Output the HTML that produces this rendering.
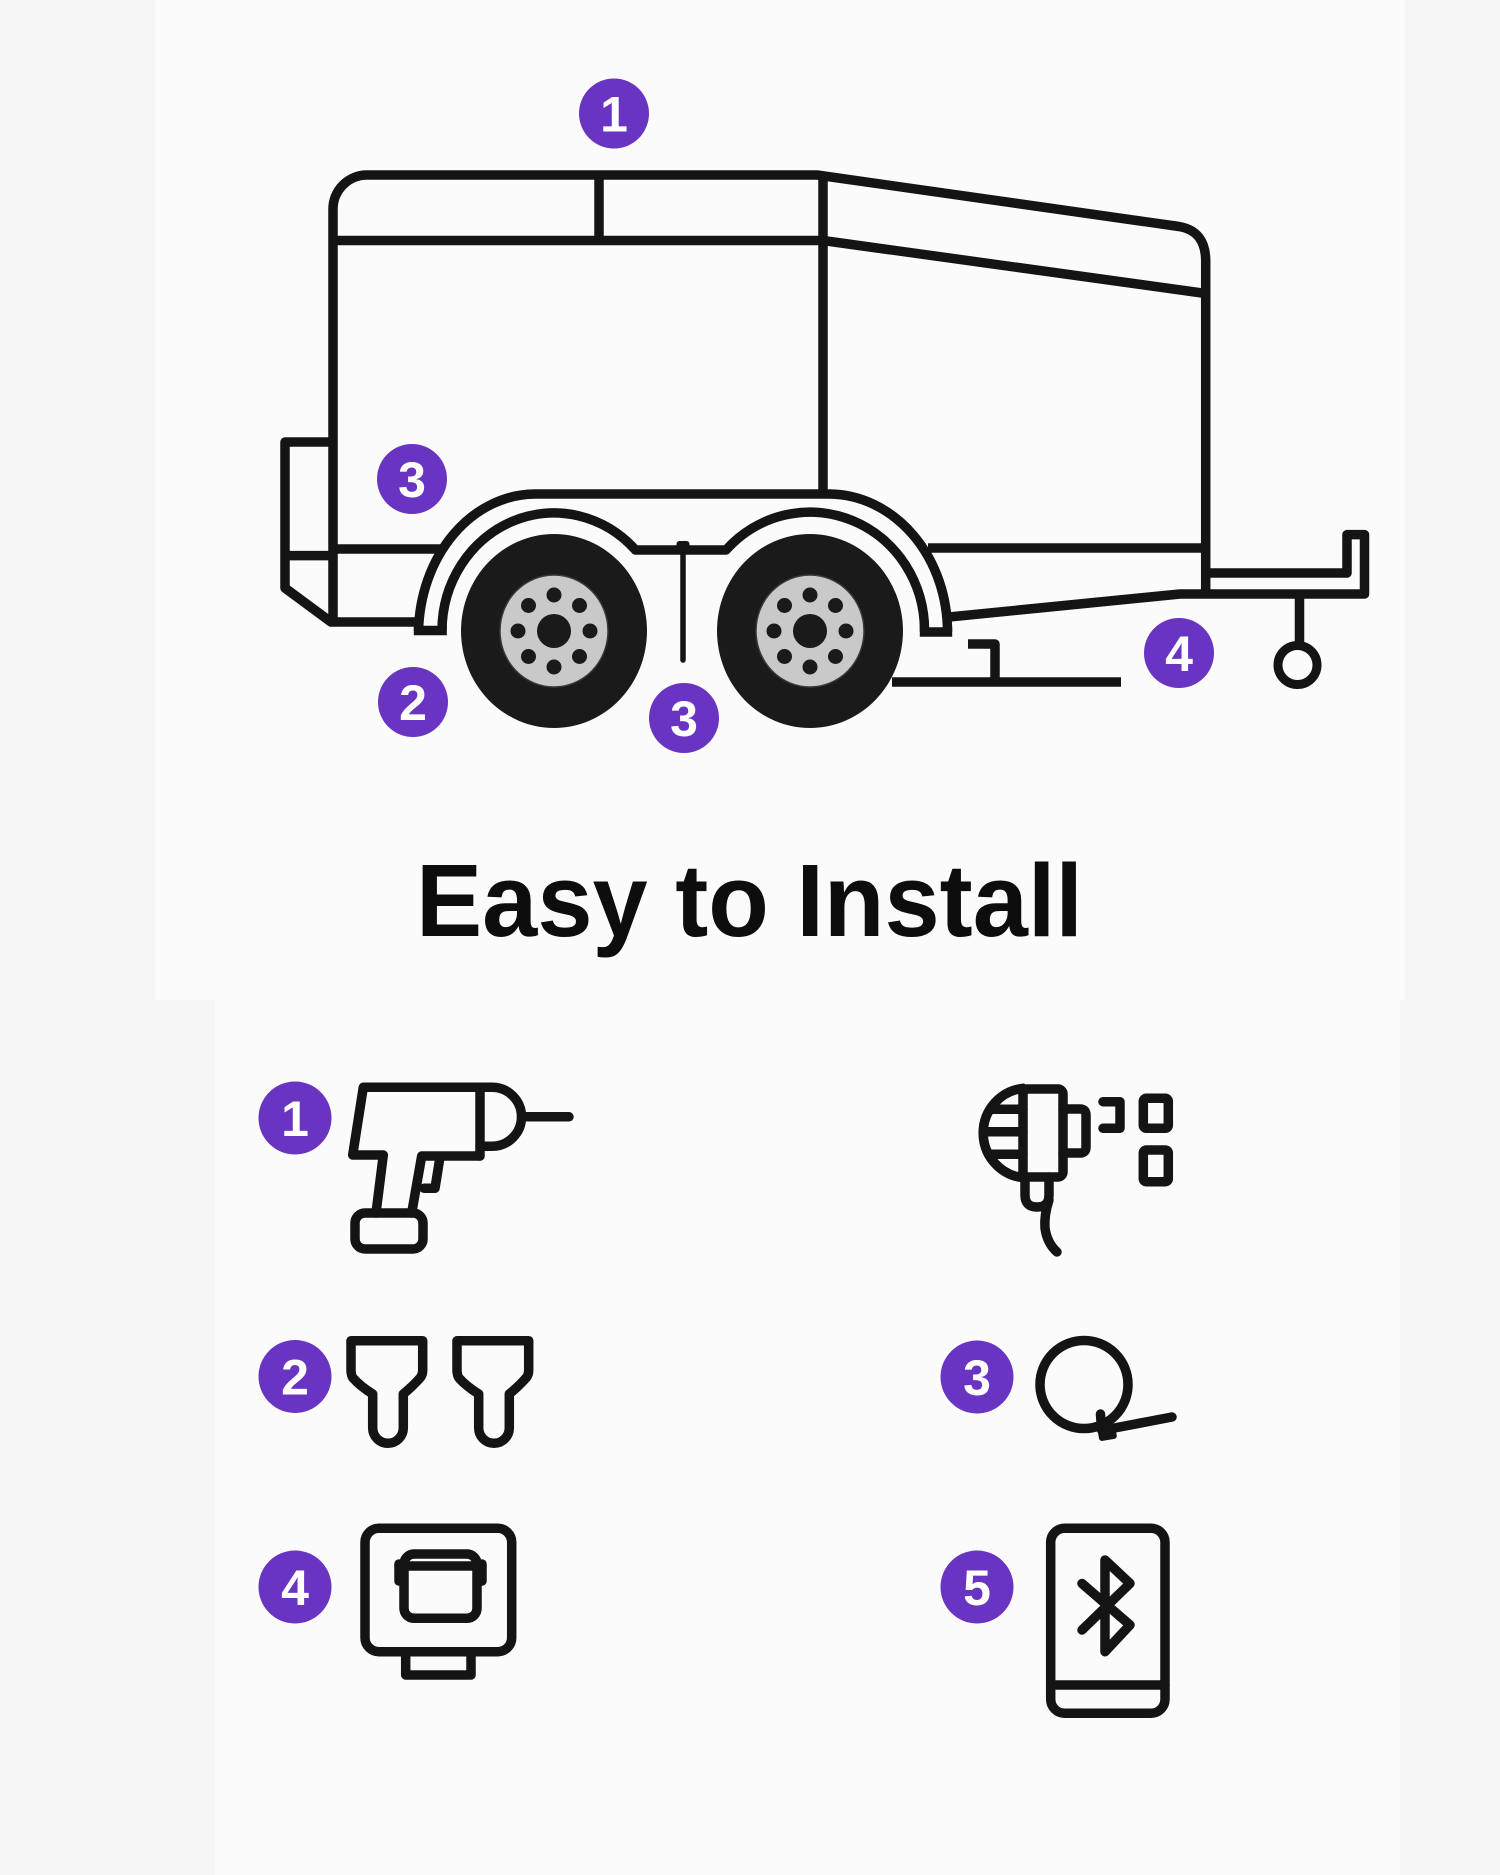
<!DOCTYPE html>
<html>
<head>
<meta charset="utf-8">
<style>
  html,body{margin:0;padding:0;background:#f6f6f6;}
  svg{display:block;}
  .t{fill:none;stroke:#141414;stroke-width:9.5;stroke-linejoin:round;stroke-linecap:butt;}
  .i{fill:none;stroke:#141414;stroke-width:9.5;stroke-linejoin:round;stroke-linecap:round;}
  .bd{fill:#6934c2;}
  .bn{fill:#ffffff;font-family:"Liberation Sans",Arial,sans-serif;font-weight:bold;font-size:50px;text-anchor:middle;}
</style>
</head>
<body>
<svg width="1500" height="1875" viewBox="0 0 1500 1875" xmlns="http://www.w3.org/2000/svg">
  <rect x="0" y="0" width="1500" height="1875" fill="#f6f6f6"/>
  <rect x="155" y="0" width="1250" height="1000" fill="#fbfbfb"/>
  <rect x="215" y="1000" width="1185" height="875" fill="#fbfbfb"/>

  <!-- ===== TRAILER ===== -->
  <path class="t" d="M 892 682 L 1121 682" stroke-linecap="round"/>
  <path class="t" d="M 968 644 L 995 644 L 995 682"/>

  <path class="t" d="M 333 622 L 333 209 A 34 34 0 0 1 367 175 L 817 175 L 1179 226.5 Q 1205.7 231 1205.7 261 L 1205.7 598"/>
  <path class="t" d="M 333 240.5 L 823 240.5 L 1205.7 293.5"/>
  <path class="t" d="M 599 175 L 599 240.5"/>
  <path class="t" d="M 823 175 L 823 494"/>

  <path class="t" d="M 333 442 L 285 442 L 285 588 L 331 622 L 418 622"/>
  <path class="t" d="M 285 555.6 L 333 555.6"/>
  <path class="t" d="M 333 549 L 445 549"/>

  <path class="t" d="M 928 548 L 1205.7 548"/>
  <path class="t" d="M 949 617 L 1180 594 L 1364.5 594 L 1364.5 534.6 L 1347 534.6 L 1347 573 L 1205.7 573"/>
  <path class="t" d="M 1299.5 594 L 1299.5 644"/>
  <circle cx="1297.5" cy="665" r="19.5" fill="none" stroke="#141414" stroke-width="9"/>

  <path class="t" d="M 418.5 631 A 117 141 0 0 1 535 494 L 830 494 A 119 138 0 0 1 947.5 632"/>
  <path class="t" d="M 442 631 A 112 118 0 0 1 635.5 550 L 726 550 A 114.5 118 0 0 1 924.5 632"/>
  <path class="t" d="M 413.8 630.5 L 446.8 630.5"/>
  <path class="t" d="M 919.8 632 L 952.2 632"/>

  <path d="M 683 546 L 683 660" stroke="#141414" stroke-width="5.5" stroke-linecap="round"/>
  <rect x="676.5" y="541" width="13" height="7" rx="3" fill="#141414"/>

  <g transform="translate(554,631)">
    <ellipse cx="0" cy="0" rx="93" ry="97" fill="#1a1a1a"/>
    <ellipse cx="0" cy="0" rx="54" ry="56" fill="#c9c9c9" stroke="#3a3a3a" stroke-width="1.5"/>
    <circle cx="0" cy="0" r="17" fill="#1a1a1a"/>
    <circle cx="0" cy="-36" r="7.5" fill="#1a1a1a"/>
    <circle cx="25.5" cy="-25.5" r="7.5" fill="#1a1a1a"/>
    <circle cx="36" cy="0" r="7.5" fill="#1a1a1a"/>
    <circle cx="25.5" cy="25.5" r="7.5" fill="#1a1a1a"/>
    <circle cx="0" cy="36" r="7.5" fill="#1a1a1a"/>
    <circle cx="-25.5" cy="25.5" r="7.5" fill="#1a1a1a"/>
    <circle cx="-36" cy="0" r="7.5" fill="#1a1a1a"/>
    <circle cx="-25.5" cy="-25.5" r="7.5" fill="#1a1a1a"/>
  </g>
  <g transform="translate(810,631)">
    <ellipse cx="0" cy="0" rx="93" ry="97" fill="#1a1a1a"/>
    <ellipse cx="0" cy="0" rx="54" ry="56" fill="#c9c9c9" stroke="#3a3a3a" stroke-width="1.5"/>
    <circle cx="0" cy="0" r="17" fill="#1a1a1a"/>
    <circle cx="0" cy="-36" r="7.5" fill="#1a1a1a"/>
    <circle cx="25.5" cy="-25.5" r="7.5" fill="#1a1a1a"/>
    <circle cx="36" cy="0" r="7.5" fill="#1a1a1a"/>
    <circle cx="25.5" cy="25.5" r="7.5" fill="#1a1a1a"/>
    <circle cx="0" cy="36" r="7.5" fill="#1a1a1a"/>
    <circle cx="-25.5" cy="25.5" r="7.5" fill="#1a1a1a"/>
    <circle cx="-36" cy="0" r="7.5" fill="#1a1a1a"/>
    <circle cx="-25.5" cy="-25.5" r="7.5" fill="#1a1a1a"/>
  </g>

  <circle class="bd" cx="614" cy="113.5" r="35"/><text class="bn" x="614" y="131.5">1</text>
  <circle class="bd" cx="412" cy="479" r="35"/><text class="bn" x="412" y="497">3</text>
  <circle class="bd" cx="413" cy="702" r="35"/><text class="bn" x="413" y="720">2</text>
  <circle class="bd" cx="684" cy="718" r="35"/><text class="bn" x="684" y="736">3</text>
  <circle class="bd" cx="1179" cy="653" r="35"/><text class="bn" x="1179" y="671">4</text>

  <!-- ===== TITLE ===== -->
  <text x="416" y="936" font-family="'Liberation Sans',Arial,sans-serif" font-weight="bold" font-size="103" fill="#0d0d0d" textLength="667" lengthAdjust="spacingAndGlyphs">Easy to Install</text>

  <!-- ===== ICONS ===== -->
  <circle class="bd" cx="295" cy="1118" r="36.5"/><text class="bn" x="295" y="1136">1</text>
  <circle class="bd" cx="295" cy="1376.5" r="36.5"/><text class="bn" x="295" y="1394.5">2</text>
  <circle class="bd" cx="295" cy="1587" r="36.5"/><text class="bn" x="295" y="1605">4</text>
  <circle class="bd" cx="977" cy="1377" r="36.5"/><text class="bn" x="977" y="1395">3</text>
  <circle class="bd" cx="977" cy="1587" r="36.5"/><text class="bn" x="977" y="1605">5</text>

  <!-- drill -->
  <g class="i">
    <path d="M 480 1156 L 421.7 1156 L 411.7 1213"/>
    <path d="M 376 1213 L 383.3 1155 L 352.7 1155 L 363.3 1087.3 L 492 1087.3 A 29.5 29.5 0 0 1 492 1146.3 L 480 1146.3"/>
    <path d="M 480 1087.3 L 480 1156"/>
    <path d="M 521.5 1116.8 L 569 1116.8"/>
    <path d="M 440 1157 L 435 1188.3 L 424 1188.3"/>
    <rect x="355" y="1213" width="68" height="36" rx="10"/>
  </g>

  <!-- plug / power -->
  <g class="i">
    <path d="M 1023 1088.3 A 45 45 0 0 0 1023 1177.7"/>
    <path d="M 990 1109.3 L 1023 1109.3"/>
    <path d="M 983.5 1131.7 L 1023 1131.7"/>
    <path d="M 988.5 1154.3 L 1023 1154.3"/>
    <rect x="1023" y="1089" width="40" height="88" rx="5"/>
    <path d="M 1063 1109 L 1080 1109 Q 1086 1109 1086 1115 L 1086 1147 Q 1086 1153 1080 1153 L 1063 1153"/>
    <path d="M 1025 1177 L 1025 1195 Q 1025 1207 1037 1207 Q 1049 1207 1049 1195 L 1049 1177"/>
    <path d="M 1049 1200 Q 1044 1215 1045 1228 Q 1047 1243 1057 1252"/>
    <path d="M 1103 1101.7 L 1120 1101.7 L 1120 1128.3 L 1103 1128.3"/>
    <rect x="1143.3" y="1098.3" width="25" height="30" rx="3"/>
    <rect x="1143.3" y="1150" width="25" height="31.7" rx="3"/>
  </g>

  <!-- heat shrink connectors -->
  <g class="i">
    <path d="M 372.7 1428 L 372.7 1394 Q 360 1386 353 1378 Q 351 1375 351 1370 L 351 1340.7 L 422.7 1340.7 L 422.7 1370 Q 422.7 1375 420 1378 Q 413 1386 403.3 1394 L 403.3 1428 A 15.3 15.3 0 0 1 372.7 1428 Z"/>
    <path transform="translate(106,0)" d="M 372.7 1428 L 372.7 1394 Q 360 1386 353 1378 Q 351 1375 351 1370 L 351 1340.7 L 422.7 1340.7 L 422.7 1370 Q 422.7 1375 420 1378 Q 413 1386 403.3 1394 L 403.3 1428 A 15.3 15.3 0 0 1 372.7 1428 Z"/>
  </g>

  <!-- cable tie -->
  <g class="i">
    <circle cx="1084" cy="1384.5" r="44" stroke-width="9.5"/>
    <path d="M 1104 1430 L 1172 1417"/>
    <path d="M 1100.5 1414 L 1101.5 1430"/>
  </g>
  <rect x="1098" y="1424" width="18" height="16" rx="3" fill="#141414" transform="rotate(-10 1107 1432)"/>

  <!-- box / module -->
  <g class="i">
    <rect x="365" y="1528.3" width="146.7" height="123.4" rx="14"/>
    <path d="M 405.7 1651.7 L 405.7 1675 L 471 1675 L 471 1651.7" stroke-linecap="butt"/>
    <rect x="404" y="1554" width="73" height="64.3" rx="10"/>
    <path d="M 399 1566 L 482 1566"/>
    <path d="M 399 1564 L 399 1581"/>
    <path d="M 482 1564 L 482 1581"/>
  </g>

  <!-- phone with bluetooth -->
  <g class="i">
    <rect x="1050.7" y="1528.3" width="114.3" height="185" rx="14"/>
    <path d="M 1050.7 1685 L 1165 1685"/>
    <path d="M 1082 1583.5 L 1130 1625 L 1105 1651.7 L 1105 1560 L 1130 1583.5 L 1082 1630"/>
  </g>
</svg>
</body>
</html>
